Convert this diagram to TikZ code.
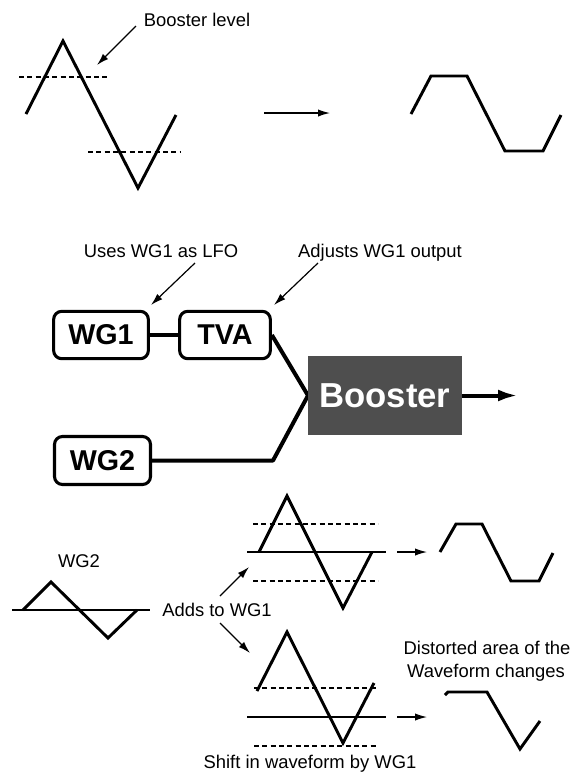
\documentclass[tikz,border=0pt]{standalone}
\usepackage{fontspec}
\setmainfont{Liberation Sans}
\usetikzlibrary{arrows.meta}
\begin{document}
\begin{tikzpicture}[x=0.75pt,y=-0.75pt,
  lbl/.style={font=\fontsize{13.8}{16}\selectfont, inner sep=0pt, anchor=base},
  blk/.style={draw, line width=2.3pt, rounded corners=6pt, inner sep=0pt,
    font=\fontsize{21.5}{24}\selectfont\bfseries},
  wave/.style={line width=2.2pt, line join=miter},
  dashline/.style={line width=1.1pt, dash pattern=on 3.75pt off 2.5pt},
  axisline/.style={line width=1pt},
  thinarrow/.style={line width=0.9pt, -{Latex[length=9pt,width=5.5pt]}},
  wire/.style={line width=3pt, line join=round}]
\useasboundingbox (0,0) rectangle (583,776);
\definecolor{boostgray}{RGB}{78,78,78}

% ---------- top: booster level ----------
\node[lbl] (blevel) at (197,26) {Booster level};
\coordinate (bls) at (136,26);
\coordinate (ble) at (97,65);
\draw[thinarrow] (bls) -- (ble);
\draw[wave] (26,114) -- (63,41) -- (138,188) -- (176,115);
\draw[dashline] (19,77) -- (110,77);
\draw[dashline] (88,152) -- (181,152);
\coordinate (tas) at (264,113);
\coordinate (tae) at (330,113);
\draw[thinarrow] (tas) -- (tae);
\draw[wave] (411,114) -- (431,76) -- (467,76) -- (505,151) -- (543,151) -- (561,115);

% ---------- middle: block diagram ----------
\node[lbl] (lfo) at (161,257) {Uses WG1 as LFO};
\node[lbl] (adj) at (380,257) {Adjusts WG1 output};
\coordinate (a1s) at (195,263);
\coordinate (a1e) at (151,305);
\coordinate (a2s) at (318,263);
\coordinate (a2e) at (274,305);
\draw[thinarrow] (a1s) -- (a1e);
\draw[thinarrow] (a2s) -- (a2e);

\node[blk, minimum width=71pt, minimum height=35.5pt] (wg1) at (101,335) {WG1};
\node[blk, minimum width=68pt, minimum height=35.5pt] (tva) at (225,335) {TVA};
\node[blk, minimum width=72pt, minimum height=36pt] (wg2) at (102.5,460.5) {WG2};
\coordinate (bend) at (273,460.5);
\draw[wire] (wg1.east) -- (tva.west);
\draw[wire] (tva.east) -- (308,395.5) -- (bend) -- (wg2.east);
\node[fill=boostgray, text=white, inner sep=0pt, minimum width=115.5pt, minimum height=59.25pt,
  font=\fontsize{26}{30}\selectfont\bfseries] (boost) at (385,395.5) {Booster};
\coordinate (outend) at (518,395.5);
\draw[line width=3pt, -{Latex[length=15pt,width=9pt]}] (boost.east) -- (outend);

% ---------- bottom left: WG2 ----------
\node[lbl] (wg2lbl) at (79,567) {WG2};
\draw[axisline] (12,610) -- (150,610);
\draw[wave] (23,610) -- (51,582) -- (108,638) -- (137,610);
\node[lbl] (adds) at (217,616) {Adds to WG1};
\coordinate (u1s) at (220,596);
\coordinate (u1e) at (249,567);
\coordinate (d1s) at (220,623);
\coordinate (d1e) at (250,653);
\draw[thinarrow] (u1s) -- (u1e);
\draw[thinarrow] (d1s) -- (d1e);

% ---------- upper shifted waveform ----------
\draw[axisline] (247,552) -- (386,552);
\draw[dashline] (253,524) -- (378,524);
\draw[dashline] (253,581) -- (378,581);
\draw[wave] (259,552) -- (287,496) -- (343,608) -- (372,552);
\coordinate (ua1) at (397,552);
\coordinate (ua2) at (427,552);
\draw[thinarrow] (ua1) -- (ua2);
\draw[wave] (440,552) -- (456,524) -- (482,524) -- (511,581) -- (539,581) -- (553,553);

% ---------- lower shifted waveform ----------
\draw[axisline] (247,717) -- (386,717);
\draw[dashline] (254,688) -- (378,688);
\draw[dashline] (254,746) -- (378,746);
\draw[wave] (257,691) -- (287,632) -- (343,743) -- (374,683);
\coordinate (la1) at (397,717);
\coordinate (la2) at (427,717);
\draw[thinarrow] (la1) -- (la2);
\draw[wave] (445,695) -- (448,692) -- (487,692) -- (520,749) -- (540,721);

\node[lbl] (dist1) at (487,654) {Distorted area of the};
\node[lbl] (dist2) at (486,677) {Waveform changes};
\node[lbl] (shift) at (310,768) {Shift in waveform by WG1};
\end{tikzpicture}
\end{document}
